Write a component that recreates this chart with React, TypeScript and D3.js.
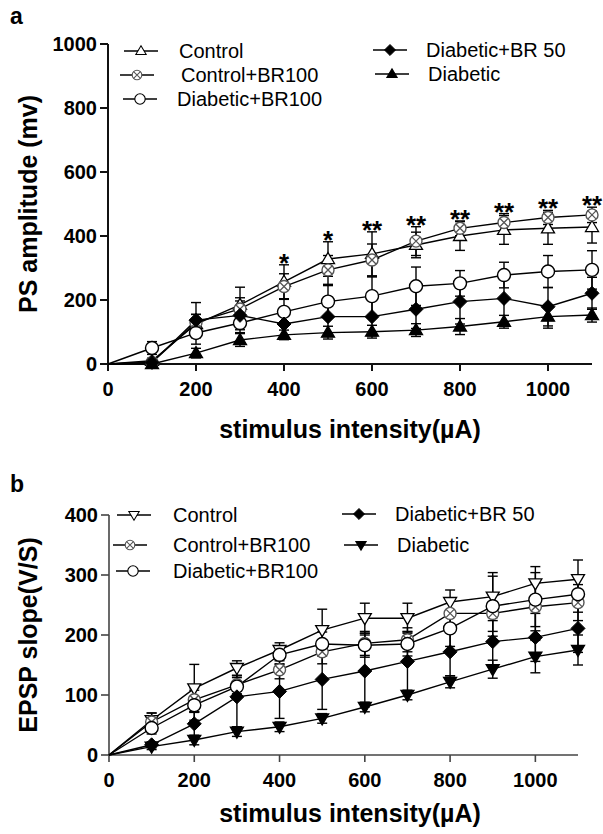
import React, { useEffect, useRef } from "react";
import * as d3 from "d3";

const intensities = [100, 200, 300, 400, 500, 600, 700, 800, 900, 1000, 1100];

// panel a - PS amplitude (mv)
const psControl = [10, 125, 185, 257, 328, 344, 372, 400, 419, 424, 428];
const psControlBR100 = [5, 130, 172, 242, 294, 325, 384, 424, 442, 458, 466];
const psDiabeticBR100 = [50, 97, 128, 163, 195, 212, 243, 252, 278, 289, 294];
const psDiabeticBR50 = [5, 137, 152, 125, 148, 148, 171, 195, 205, 179, 221];
const psDiabetic = [0, 34, 75, 91, 98, 101, 106, 117, 132, 148, 153];

const psControlErr = [8, 30, 55, 53, 54, 69, 40, 45, 45, 50, 50];
const psControlBR100Err = [10, 25, 35, 40, 45, 50, 45, 23, 28, 22, 24];
const psDiabeticBR100Err = [20, 35, 30, 40, 50, 60, 60, 40, 40, 50, 60];
const psDiabeticBR50Err = [10, 55, 45, 40, 60, 60, 60, 70, 80, 60, 50];
const psDiabeticErr = [5, 15, 20, 15, 20, 20, 20, 25, 20, 36, 22];

const psStars = ["", "", "", "*", "*", "**", "**", "**", "**", "**", "**"];

// panel b - EPSP slope (V/S)
const epControl = [58, 111, 145, 175, 208, 228, 228, 255, 264, 286, 293];
const epControlBR100 = [55, 92, 117, 142, 172, 186, 192, 236, 236, 247, 254];
const epDiabeticBR100 = [45, 83, 114, 167, 185, 183, 185, 211, 248, 259, 268];
const epDiabeticBR50 = [17, 52, 97, 106, 126, 140, 156, 172, 189, 196, 211];
const epDiabetic = [14, 25, 39, 47, 61, 80, 100, 122, 143, 164, 175];

const epControlErr = [12, 40, 12, 12, 35, 25, 25, 20, 40, 28, 32];
const epControlBR100Err = [15, 20, 15, 15, 20, 20, 20, 25, 30, 40, 30];
const epDiabeticBR100Err = [10, 25, 15, 15, 20, 20, 20, 30, 50, 45, 30];
const epDiabeticBR50Err = [5, 20, 50, 45, 50, 60, 50, 40, 40, 40, 40];
const epDiabeticErr = [5, 8, 8, 8, 8, 8, 8, 10, 15, 27, 25];

const psTicks = [0, 200, 400, 600, 800, 1000];
const epTicks = [0, 100, 200, 300, 400];
const xTicks = [0, 200, 400, 600, 800, 1000];

const FONT = "'Liberation Sans', Arial, sans-serif";

function drawMarker(g, kind, cx, cy, k = 1) {
  const m = g.append("g").attr("transform", "translate(" + cx + "," + cy + ") scale(" + k + ")");
  if (kind === "triUp" || kind === "triUpFill") {
    m.append("path")
      .attr("d", "M0,-6.5L6.5,4.5L-6.5,4.5Z")
      .attr("fill", kind === "triUpFill" ? "#000" : "#fff")
      .attr("stroke", "#000")
      .attr("stroke-width", 1.3);
  } else if (kind === "triDown" || kind === "triDownFill") {
    m.append("path")
      .attr("d", "M0,6.5L6.5,-4.5L-6.5,-4.5Z")
      .attr("fill", kind === "triDownFill" ? "#000" : "#fff")
      .attr("stroke", "#000")
      .attr("stroke-width", 1.3);
  } else if (kind === "circle") {
    m.append("circle").attr("r", 6.5).attr("fill", "#fff").attr("stroke", "#000").attr("stroke-width", 1.4);
  } else if (kind === "cross") {
    m.append("circle").attr("r", 6).attr("fill", "#fff").attr("stroke", "#555").attr("stroke-width", 1.4);
    m.append("path").attr("d", "M-4,-4L4,4M-4,4L4,-4").attr("stroke", "#555").attr("stroke-width", 1.3);
  } else if (kind === "diamond") {
    m.append("path").attr("d", "M0,-7L7,0L0,7L-7,0Z").attr("fill", "#000").attr("stroke", "#000");
  }
}

function drawPanel(svg, opt) {
  const { x, y, series, yTicks, letter, letterY, yLabel, titleY, axisW, axisColor, stars, legend } = opt;
  const g = svg.append("g");
  const [x0, x1] = x.range();
  const [y0, y1] = y.range();

  // axes
  g.append("line").attr("x1", x0).attr("x2", x0).attr("y1", y0).attr("y2", y1)
    .attr("stroke", axisColor).attr("stroke-width", axisW);
  g.append("line").attr("x1", x0).attr("x2", x1).attr("y1", y0).attr("y2", y0)
    .attr("stroke", axisColor).attr("stroke-width", axisW);

  yTicks.forEach((t) => {
    g.append("line").attr("x1", x0 - 8).attr("x2", x0).attr("y1", y(t)).attr("y2", y(t))
      .attr("stroke", axisColor).attr("stroke-width", axisW);
    g.append("text").attr("x", x0 - 11).attr("y", y(t)).attr("dy", "0.36em")
      .attr("text-anchor", "end").attr("font-family", FONT).attr("font-weight", "bold")
      .attr("font-size", 20).text(t);
  });
  xTicks.forEach((t) => {
    g.append("line").attr("x1", x(t)).attr("x2", x(t)).attr("y1", y0).attr("y2", y0 + 7)
      .attr("stroke", axisColor).attr("stroke-width", axisW);
    g.append("text").attr("x", x(t)).attr("y", y0 + 32)
      .attr("text-anchor", "middle").attr("font-family", FONT).attr("font-weight", "bold")
      .attr("font-size", 20).text(t);
  });

  g.append("text").attr("x", 350).attr("y", titleY)
    .attr("text-anchor", "middle").attr("font-family", FONT).attr("font-weight", "bold")
    .attr("font-size", 25).text("stimulus intensity(\u00b5A)");

  g.append("text")
    .attr("transform", "translate(37," + (y0 + y1) / 2 + ") rotate(-90)")
    .attr("text-anchor", "middle").attr("font-family", FONT).attr("font-weight", "bold")
    .attr("font-size", 25).text(yLabel);

  g.append("text").attr("x", 10).attr("y", letterY).attr("font-family", FONT)
    .attr("font-weight", "bold").attr("font-size", 23).text(letter);

  const line = d3.line().x((d) => x(d[0])).y((d) => y(d[1]));

  series.forEach((s) => {
    const pts = [[0, 0]].concat(intensities.map((v, i) => [v, s.values[i]]));
    g.append("path").attr("d", line(pts)).attr("fill", "none")
      .attr("stroke", "#000").attr("stroke-width", 1.4);
  });

  series.forEach((s) => {
    intensities.forEach((v, i) => {
      const cx = x(v);
      const top = y(s.values[i] + s.err[i]);
      const bot = y(Math.max(0, s.values[i] - s.err[i]));
      g.append("line").attr("x1", cx).attr("x2", cx).attr("y1", top).attr("y2", bot)
        .attr("stroke", "#000").attr("stroke-width", 1.4);
      [top, bot].forEach((yy) => {
        g.append("line").attr("x1", cx - 5).attr("x2", cx + 5).attr("y1", yy).attr("y2", yy)
          .attr("stroke", "#000").attr("stroke-width", 1.4);
      });
    });
  });

  series.forEach((s) => {
    intensities.forEach((v, i) => drawMarker(g, s.marker, x(v), y(s.values[i])));
  });

  if (stars) {
    intensities.forEach((v, i) => {
      if (!stars[i]) return;
      const topVal = d3.max(series, (s) => s.values[i] + s.err[i]);
      g.append("text").attr("x", x(v)).attr("y", y(topVal) + 7)
        .attr("text-anchor", "middle").attr("font-family", FONT).attr("font-weight", "bold")
        .attr("font-size", 26).text(stars[i]);
    });
  }

  legend.forEach((l) => {
    const s = series[l.idx];
    g.append("line").attr("x1", l.lx - 17).attr("x2", l.lx + 17).attr("y1", l.ly).attr("y2", l.ly)
      .attr("stroke", "#000").attr("stroke-width", 1.3);
    drawMarker(g, s.marker, l.lx, l.ly, 0.8);
    g.append("text").attr("x", l.tx).attr("y", l.ly).attr("dy", "0.36em")
      .attr("font-family", FONT).attr("font-size", 20).text(s.name);
  });
}

const App = () => {
  const ref = useRef(null);

  useEffect(() => {
    const svg = d3.select(ref.current);
    svg.selectAll("*").remove();

    const xA = d3.scaleLinear().domain([0, 1100]).range([108, 592]);
    const yA = d3.scaleLinear().domain([0, 1000]).range([364, 44]);
    const xB = d3.scaleLinear().domain([0, 1100]).range([109, 578]);
    const yB = d3.scaleLinear().domain([0, 400]).range([755, 515]);

    drawPanel(svg, {
      x: xA,
      y: yA,
      yTicks: psTicks,
      letter: "a",
      letterY: 24,
      yLabel: "PS amplitude (mv)",
      titleY: 438,
      axisW: 2,
      axisColor: "#111",
      stars: psStars,
      series: [
        { name: "Control", values: psControl, err: psControlErr, marker: "triUp" },
        { name: "Control+BR100", values: psControlBR100, err: psControlBR100Err, marker: "cross" },
        { name: "Diabetic+BR100", values: psDiabeticBR100, err: psDiabeticBR100Err, marker: "circle" },
        { name: "Diabetic+BR 50", values: psDiabeticBR50, err: psDiabeticBR50Err, marker: "diamond" },
        { name: "Diabetic", values: psDiabetic, err: psDiabeticErr, marker: "triUpFill" },
      ],
      legend: [
        { idx: 0, lx: 141, ly: 51, tx: 179 },
        { idx: 1, lx: 137, ly: 75, tx: 181 },
        { idx: 2, lx: 140, ly: 99, tx: 177 },
        { idx: 3, lx: 390, ly: 50, tx: 426 },
        { idx: 4, lx: 392, ly: 74, tx: 428 },
      ],
    });

    drawPanel(svg, {
      x: xB,
      y: yB,
      yTicks: epTicks,
      letter: "b",
      letterY: 492,
      yLabel: "EPSP slope(V/S)",
      titleY: 822,
      axisW: 1.6,
      axisColor: "#444",
      stars: null,
      series: [
        { name: "Control", values: epControl, err: epControlErr, marker: "triDown" },
        { name: "Control+BR100", values: epControlBR100, err: epControlBR100Err, marker: "cross" },
        { name: "Diabetic+BR100", values: epDiabeticBR100, err: epDiabeticBR100Err, marker: "circle" },
        { name: "Diabetic+BR 50", values: epDiabeticBR50, err: epDiabeticBR50Err, marker: "diamond" },
        { name: "Diabetic", values: epDiabetic, err: epDiabeticErr, marker: "triDownFill" },
      ],
      legend: [
        { idx: 0, lx: 134, ly: 515, tx: 173 },
        { idx: 1, lx: 130, ly: 545, tx: 173 },
        { idx: 2, lx: 133, ly: 571, tx: 173 },
        { idx: 3, lx: 359, ly: 514, tx: 395 },
        { idx: 4, lx: 361, ly: 545, tx: 397 },
      ],
    });
  }, []);

  return (
    <svg
      ref={ref}
      width={603}
      height={834}
      style={{ position: "absolute", left: 0, top: 0, background: "#fff" }}
    ></svg>
  );
};

export default App;
